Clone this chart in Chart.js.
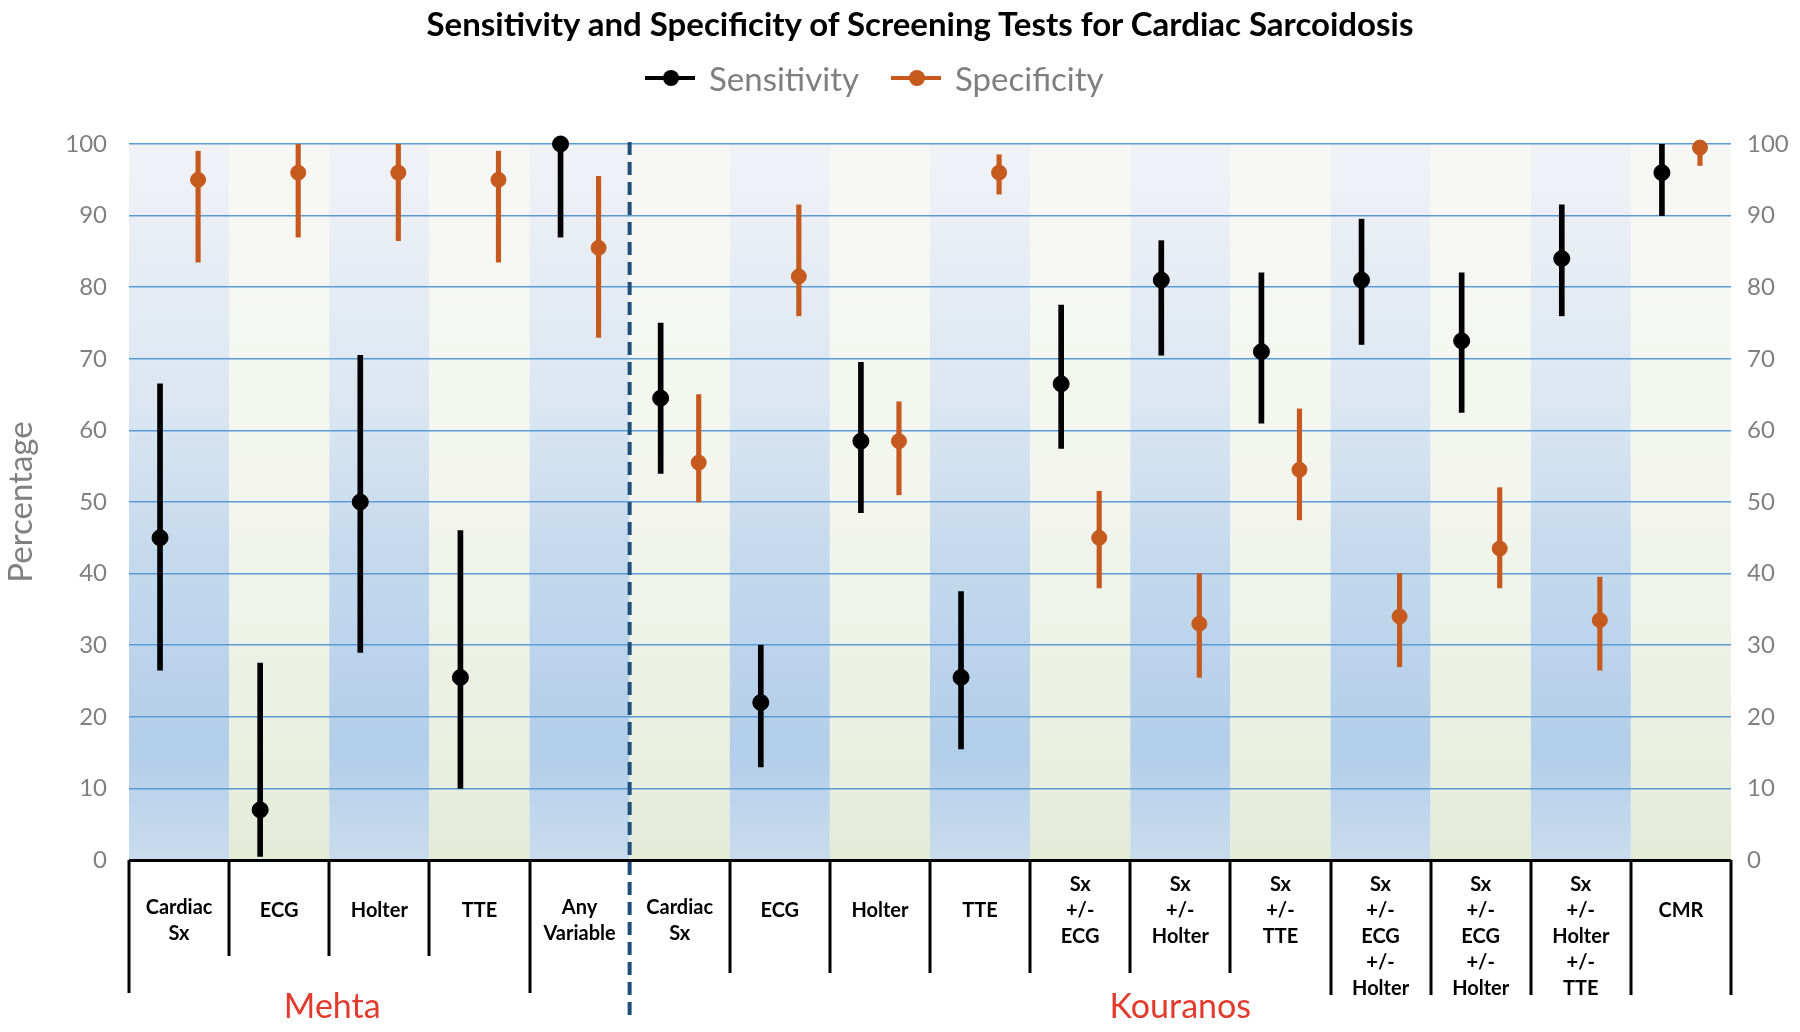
<!DOCTYPE html>
<html>
<head>
<meta charset="utf-8">
<script src="https://cdn.jsdelivr.net/npm/chart.js@4.4.1/dist/chart.umd.min.js"></script>
<style>
  html, body { margin: 0; padding: 0; background: #fff; }
  #wrap { position: relative; width: 1800px; height: 1032px; }
  #chart { position: absolute; left: 0; top: 0; }
  #title { position: absolute; left: 0; top: 3px; width: 1840px; text-align: center;
           font: bold 33px Lato, sans-serif; color: #000; line-height: 40px; }
  .leg { position: absolute; top: 58px; height: 40px; display: flex; align-items: center;
         font: 33px Lato, sans-serif; color: #7f7f7f; }
  .mark { position: relative; width: 50px; height: 4px; margin-right: 14px; }
  .mark i { position: absolute; left: 18px; top: -6px; width: 16px; height: 16px; border-radius: 50%; }
</style>
</head>
<body>
<div id="wrap">
  <canvas id="chart" width="1800" height="1032"></canvas>
  <div id="title">Sensitivity and Specificity of Screening Tests for Cardiac Sarcoidosis</div>
  <div class="leg" style="left:645px"><span class="mark" style="background:#000"><i style="background:#000"></i></span>Sensitivity</div>
  <div class="leg" style="left:891px"><span class="mark" style="background:#C65A1E"><i style="background:#C65A1E"></i></span>Specificity</div>
</div>
<script>
// Categories (first 5 from Mehta, remaining 11 from Kouranos)
const categories = [
  ["Cardiac", "Sx"], ["ECG"], ["Holter"], ["TTE"], ["Any", "Variable"],
  ["Cardiac", "Sx"], ["ECG"], ["Holter"], ["TTE"],
  ["Sx", "+/-", "ECG"], ["Sx", "+/-", "Holter"], ["Sx", "+/-", "TTE"],
  ["Sx", "+/-", "ECG", "+/-", "Holter"], ["Sx", "+/-", "ECG", "+/-", "Holter"],
  ["Sx", "+/-", "Holter", "+/-", "TTE"], ["CMR"]
];
const studies = ["Mehta", "Kouranos"];

const sensitivity = [45, 7, 50, 25.5, 100, 64.5, 22, 58.5, 25.5, 66.5, 81, 71, 81, 72.5, 84, 96];
const sensLow     = [26.5, 0.5, 29, 10, 87, 54, 13, 48.5, 15.5, 57.5, 70.5, 61, 72, 62.5, 76, 90];
const sensHigh    = [66.5, 27.5, 70.5, 46, 100, 75, 30, 69.5, 37.5, 77.5, 86.5, 82, 89.5, 82, 91.5, 100];

const specificity = [95, 96, 96, 95, 85.5, 55.5, 81.5, 58.5, 96, 45, 33, 54.5, 34, 43.5, 33.5, 99.5];
const specLow     = [83.5, 87, 86.5, 83.5, 73, 50, 76, 51, 93, 38, 25.5, 47.5, 27, 38, 26.5, 97];
const specHigh    = [99, 100, 100, 99, 95.5, 65, 91.5, 64, 98.5, 51.5, 40, 63, 40, 52, 39.5, 100];

const SENS_COLOR = "#000000";
const SPEC_COLOR = "#C65A1E";
const SHIFT = 0.19;

const blueStops = [[0, "#F1F2F6"], [0.35, "#DCE7F2"], [0.6, "#C2D8ED"], [0.85, "#B3CEE9"], [1, "#C9DCEE"]];
const creamStops = [[0, "#F7F8F5"], [0.5, "#F3F5EE"], [0.85, "#EAEFE0"], [1, "#E3EAD6"]];

// striped background, one column per category
const stripes = {
  id: "stripes",
  beforeDraw(chart) {
    const { ctx, chartArea: a, scales: { x } } = chart;
    ctx.save();
    categories.forEach((c, i) => {
      const x0 = x.getPixelForValue(i - 0.5), x1 = x.getPixelForValue(i + 0.5);
      const g = ctx.createLinearGradient(0, a.top, 0, a.bottom);
      (i % 2 === 0 ? blueStops : creamStops).forEach(([p, col]) => g.addColorStop(p, col));
      ctx.fillStyle = g;
      ctx.fillRect(x0, a.top, x1 - x0, a.bottom - a.top);
    });
    ctx.restore();
  }
};

// label table under the axis, study names and the dashed separator
const table = {
  id: "table",
  afterDraw(chart) {
    const { ctx, chartArea: a, scales: { x } } = chart;
    ctx.save();
    ctx.strokeStyle = "#000";
    ctx.lineWidth = 3;
    for (let b = 0; b <= categories.length; b++) {
      if (b === 5) continue;
      let end = 993;
      if (b >= 1 && b <= 3) end = 956;
      else if (b >= 6 && b <= 11) end = 973;
      else if (b >= 12) end = 995;
      const px = Math.round(x.getPixelForValue(b - 0.5));
      ctx.beginPath();
      ctx.moveTo(px, a.bottom);
      ctx.lineTo(px, end);
      ctx.stroke();
    }

    ctx.fillStyle = "#000";
    ctx.font = "bold 20px Lato, sans-serif";
    ctx.textAlign = "center";
    ctx.textBaseline = "middle";
    categories.forEach((lines, i) => {
      const px = x.getPixelForValue(i);
      let y0 = lines.length >= 3 ? 885 : (lines.length === 2 ? 908 : 911);
      lines.forEach((t, k) => ctx.fillText(t, px, y0 + k * 26));
    });

    ctx.fillStyle = "#E23B2E";
    ctx.font = "34px Lato, sans-serif";
    ctx.fillText(studies[0], x.getPixelForValue(1.53), 1007);
    ctx.fillText(studies[1], x.getPixelForValue(10), 1007);

    const dx = x.getPixelForValue(4.5);
    ctx.strokeStyle = "#1F4E79";
    ctx.lineWidth = 4;
    ctx.setLineDash([13, 7]);
    ctx.beginPath();
    ctx.moveTo(dx, a.top - 2);
    ctx.lineTo(dx, 1020);
    ctx.stroke();
    ctx.restore();
  }
};

const tickFont = { family: "Lato", size: 24 };

new Chart(document.getElementById("chart"), {
  type: "bar",
  data: {
    datasets: [
      {
        label: "Sensitivity CI",
        data: categories.map((c, i) => ({ x: i - SHIFT, y: [sensLow[i], sensHigh[i]] })),
        backgroundColor: SENS_COLOR, barThickness: 5, grouped: false
      },
      {
        label: "Specificity CI",
        data: categories.map((c, i) => ({ x: i + SHIFT, y: [specLow[i], specHigh[i]] })),
        backgroundColor: SPEC_COLOR, barThickness: 4.5, grouped: false
      },
      {
        type: "scatter", label: "Sensitivity",
        data: sensitivity.map((v, i) => ({ x: i - SHIFT, y: v })),
        backgroundColor: SENS_COLOR, borderColor: SENS_COLOR, pointRadius: 8, clip: false
      },
      {
        type: "scatter", label: "Specificity",
        data: specificity.map((v, i) => ({ x: i + SHIFT, y: v })),
        backgroundColor: SPEC_COLOR, borderColor: SPEC_COLOR, pointRadius: 7.5, clip: false
      }
    ]
  },
  options: {
    responsive: false,
    animation: false,
    events: [],
    layout: { padding: { top: 144, bottom: 172, left: 0, right: 0 } },
    plugins: { legend: { display: false }, title: { display: false }, tooltip: { enabled: false } },
    scales: {
      x: { type: "linear", min: -0.5, max: 15.5, offset: false, display: false },
      y: {
        position: "left", min: 0, max: 100,
        ticks: { stepSize: 10, color: "#808080", font: tickFont, padding: 22 },
        grid: {
          color: c => c.tick.value === 0 ? "#000" : "#5B9BD5",
          lineWidth: c => c.tick.value === 0 ? 3 : 1.5,
          drawTicks: false
        },
        border: { display: false },
        title: { display: true, text: "Percentage", color: "#808080",
                 font: { family: "Lato", size: 33 }, padding: { top: 2, bottom: 0 } },
        afterFit(s) { s.width = 129; }
      },
      y2: {
        position: "right", min: 0, max: 100,
        ticks: { stepSize: 10, color: "#808080", font: tickFont, padding: 16 },
        grid: { display: false, drawTicks: false },
        border: { display: false },
        afterFit(s) { s.width = 69; }
      }
    }
  },
  plugins: [stripes, table]
});
</script>
</body>
</html>
